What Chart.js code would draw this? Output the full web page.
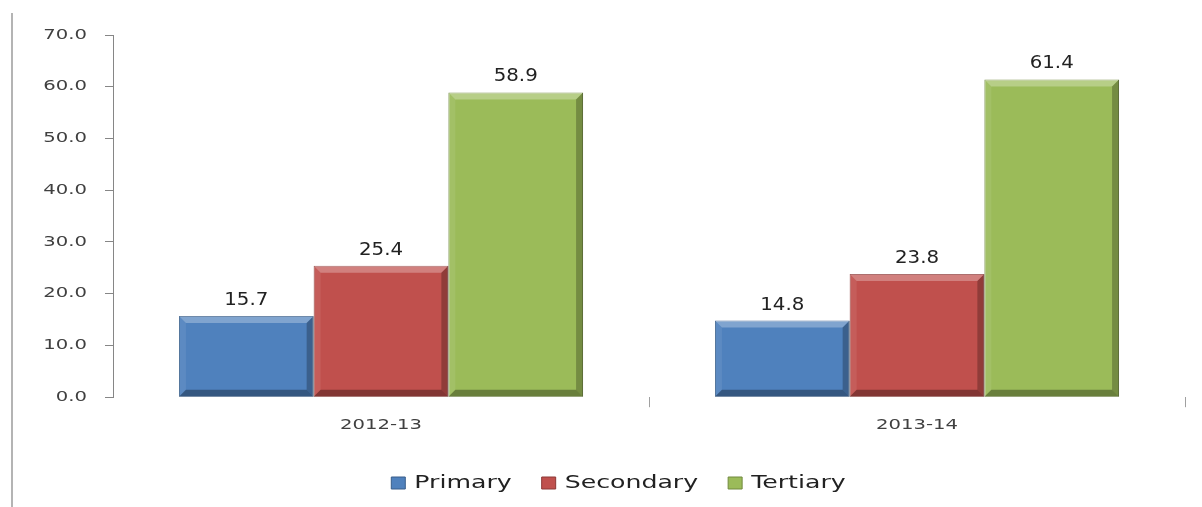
<!DOCTYPE html>
<html>
<head>
<meta charset="utf-8">
<script src="https://cdn.jsdelivr.net/npm/chart.js@4/dist/chart.umd.min.js"></script>
<style>
  html, body { margin: 0; padding: 0; background: #fff; }
  #wrap { position: relative; width: 1202px; height: 507px; }
  #frame { position: absolute; left: 11px; top: 13px; bottom: 0; width: 2px; background: #b4b4b4; }
</style>
</head>
<body>
<div id="wrap">
  <div id="frame"></div>
  <canvas id="chart" width="1202" height="507"></canvas>
</div>
<script>
const years = ["2012-13", "2013-14"];
const seriesNames = ["Primary", "Secondary", "Tertiary"];
const primary = [15.7, 14.8];
const secondary = [25.4, 23.8];
const tertiary = [58.9, 61.4];
const yTicks = [0, 10, 20, 30, 40, 50, 60, 70];

const fills = ["#4f81bd", "#c0504d", "#9bbb59"];
const edges = ["#385d8a", "#8c3836", "#71893f"];
const FONT = "'DejaVu Sans', Verdana, sans-serif";

// the source picture is squeezed wide, so text gets a horizontal stretch
const stretchText = {
  id: "stretchText",
  beforeInit(chart) {
    const ctx = chart.ctx;
    const fill = ctx.fillText.bind(ctx);
    const measure = ctx.measureText.bind(ctx);
    ctx.textScale = 1.4;
    ctx.fillText = function (text, x, y) {
      ctx.save();
      ctx.translate(x, y);
      ctx.scale(ctx.textScale, 1);
      fill(text, 0, 0);
      ctx.restore();
    };
    ctx.measureText = function (text) {
      const m = measure(text);
      return {
        width: m.width * ctx.textScale,
        actualBoundingBoxAscent: m.actualBoundingBoxAscent,
        actualBoundingBoxDescent: m.actualBoundingBoxDescent
      };
    };
  },
  afterLayout(chart) {
    // legend sits a little right of the canvas centre in the original
    chart.legend.left += 11;
    chart.legend.right += 11;
  }
};

function poly(ctx, pts, color) {
  ctx.beginPath();
  ctx.moveTo(pts[0][0], pts[0][1]);
  pts.slice(1).forEach(p => ctx.lineTo(p[0], p[1]));
  ctx.closePath();
  ctx.fillStyle = color;
  ctx.fill();
}

const bevel = {
  id: "bevel",
  afterDatasetsDraw(chart) {
    const ctx = chart.ctx;
    chart.data.datasets.forEach((ds, i) => {
      chart.getDatasetMeta(i).data.forEach(bar => {
        const { x, y, base, width } = bar.getProps(["x", "y", "base", "width"], true);
        const l = x - width / 2, r = x + width / 2, e = 7;
        ctx.save();
        poly(ctx, [[l, y], [r, y], [r - e, y + e], [l + e, y + e]], "rgba(255,255,255,0.28)");
        poly(ctx, [[l, y], [l + e, y + e], [l + e, base - e], [l, base]], "rgba(255,255,255,0.08)");
        poly(ctx, [[r, y], [r, base], [r - e, base - e], [r - e, y + e]], "rgba(0,0,0,0.25)");
        poly(ctx, [[l, base], [r, base], [r - e, base - e], [l + e, base - e]], "rgba(0,0,0,0.32)");
        ctx.restore();
      });
    });
  }
};

const barLabels = {
  id: "barLabels",
  afterDatasetsDraw(chart) {
    const ctx = chart.ctx;
    ctx.save();
    ctx.textScale = 1.1;
    ctx.font = "18px " + FONT;
    ctx.fillStyle = "#222";
    ctx.textAlign = "center";
    ctx.textBaseline = "alphabetic";
    chart.data.datasets.forEach((ds, i) => {
      chart.getDatasetMeta(i).data.forEach((bar, j) => {
        ctx.fillText(ds.data[j].toFixed(1), bar.x, bar.y - 11);
      });
    });
    ctx.textScale = 1.4;
    ctx.restore();
  }
};

const ctx = document.getElementById("chart").getContext("2d");

new Chart(ctx, {
  type: "bar",
  data: {
    labels: years,
    datasets: [primary, secondary, tertiary].map((values, i) => ({
      label: seriesNames[i],
      data: values,
      backgroundColor: fills[i],
      borderColor: edges[i],
      borderWidth: 1,
      barPercentage: 1,
      categoryPercentage: 0.754
    }))
  },
  options: {
    responsive: false,
    animation: false,
    layout: { padding: { left: 30, right: 17, top: 35, bottom: 5 } },
    plugins: {
      tooltip: { enabled: false },
      legend: {
        position: "bottom",
        labels: {
          font: { family: FONT, size: 18 },
          color: "#222",
          boxWidth: 14,
          boxHeight: 12,
          padding: 30
        }
      }
    },
    scales: {
      x: {
        border: { display: false },
        grid: {
          offset: true,
          drawOnChartArea: false,
          tickLength: 10,
          color: c => (c.index === 0 ? "rgba(0,0,0,0)" : "#a0a0a0")
        },
        ticks: { font: { family: FONT, size: 14 }, color: "#404040", padding: 10, maxRotation: 0 }
      },
      y: {
        min: yTicks[0],
        max: yTicks[yTicks.length - 1],
        afterBuildTicks: scale => { scale.ticks = yTicks.map(v => ({ value: v })); },
        afterFit: scale => { scale.width = 83; },
        border: { display: true, color: "#868686" },
        grid: { drawOnChartArea: false, tickLength: 8, color: "#868686" },
        ticks: {
          font: { family: FONT, size: 14 },
          color: "#404040",
          padding: 18,
          callback: v => v.toFixed(1)
        }
      }
    }
  },
  plugins: [stretchText, bevel, barLabels]
});
</script>
</body>
</html>
